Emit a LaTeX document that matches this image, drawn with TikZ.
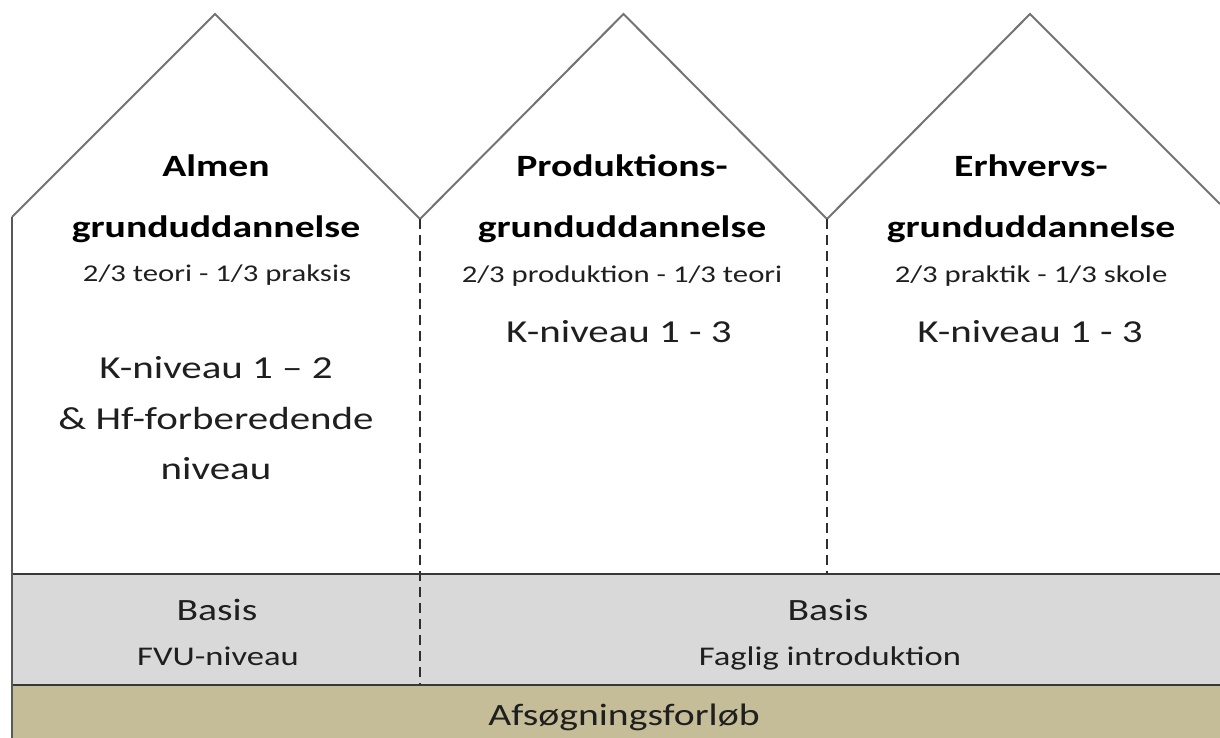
\documentclass[tikz,border=0pt]{standalone}
\usepackage{fontspec}
\setmainfont{Carlito}
\newcommand\wide[1]{\scalebox{1.28}[1]{#1}}
\definecolor{basisgray}{HTML}{D9D9D9}
\definecolor{tanband}{HTML}{C4BD97}
\tikzset{
  roofline/.style={draw=black!55, line width=2pt, line join=miter},
  bandline/.style={draw=black!78, line width=1.8pt},
  wallline/.style={draw=black!65, line width=2.6pt},
  divider/.style={draw=black!82, line width=2pt, dash pattern=on 10pt off 6pt},
  lbl/.style={anchor=base, inner sep=0pt, text=black!88},
  titletext/.style={lbl, text=black, font=\fontsize{31}{37}\selectfont\bfseries},
  smalltext/.style={lbl, font=\fontsize{24}{29}\selectfont},
  leveltext/.style={lbl, font=\fontsize{32}{38}\selectfont},
  basistext/.style={lbl, font=\fontsize{31}{37}\selectfont},
  subtext/.style={lbl, font=\fontsize{27}{32}\selectfont},
}
\begin{document}
\begin{tikzpicture}[x=1pt,y=-1pt]
\useasboundingbox (0,0) rectangle (1220,738);
% bands
\fill[basisgray] (12,574) rectangle (1220,685);
\fill[tanband] (12,685) rectangle (1220,738);
% roof points
\coordinate (eaveL) at (12,217);
\coordinate (peak1) at (215,14);
\coordinate (valley1) at (420,219);
\coordinate (peak2) at (623.5,14);
\coordinate (valley2) at (827,219);
\coordinate (peak3) at (1030,14);
\coordinate (edgeR) at (1220,204);
\coordinate (wallB) at (12,738);
\coordinate (band1L) at (12,574);
\coordinate (band1R) at (1220,574);
\coordinate (band2L) at (12,685);
\coordinate (band2R) at (1220,685);
\coordinate (div1B) at (420,685);
\coordinate (div2B) at (827,574);
\draw[roofline] (eaveL) -- (peak1) -- (valley1) -- (peak2) -- (valley2) -- (peak3) -- (edgeR);
\draw[divider] (valley1) -- (div1B);
\draw[divider] (valley2) -- (div2B);
\draw[bandline] (band1L) -- (band1R);
\draw[bandline] (band2L) -- (band2R);
\draw[wallline] (eaveL) -- (wallB);
% column 1
\node[titletext] (t1a) at (216,177) {\wide{Almen}};
\node[titletext] (t1b) at (216,237) {\wide{grunduddannelse}};
\node[smalltext] (s1) at (217,281) {\wide{2/3 teori - 1/3 praksis}};
\node[leveltext] (k1a) at (216,378) {\wide{K-niveau 1 -- 2}};
\node[leveltext] (k1b) at (216,429) {\wide{\& Hf-forberedende}};
\node[leveltext] (k1c) at (216,479) {\wide{niveau}};
% column 2
\node[titletext] (t2a) at (622,177) {\wide{Produktions-}};
\node[titletext] (t2b) at (622,237) {\wide{grunduddannelse}};
\node[smalltext] (s2) at (622,282) {\wide{2/3 produktion - 1/3 teori}};
\node[leveltext] (k2) at (619,342) {\wide{K-niveau 1 - 3}};
% column 3
\node[titletext] (t3a) at (1031,177) {\wide{Erhvervs-}};
\node[titletext] (t3b) at (1031,237) {\wide{grunduddannelse}};
\node[smalltext] (s3) at (1031,282) {\wide{2/3 praktik - 1/3 skole}};
\node[leveltext] (k3) at (1030,342) {\wide{K-niveau 1 - 3}};
% bands text
\node[basistext] (b1a) at (217,620) {\wide{Basis}};
\node[subtext] (b1b) at (218,665) {\wide{FVU-niveau}};
\node[basistext] (b2a) at (828,620) {\wide{Basis}};
\node[subtext] (b2b) at (830,665) {\wide{Faglig introduktion}};
\node[basistext] (afs) at (624,725) {\wide{Afsøgningsforløb}};
\end{tikzpicture}
\end{document}
